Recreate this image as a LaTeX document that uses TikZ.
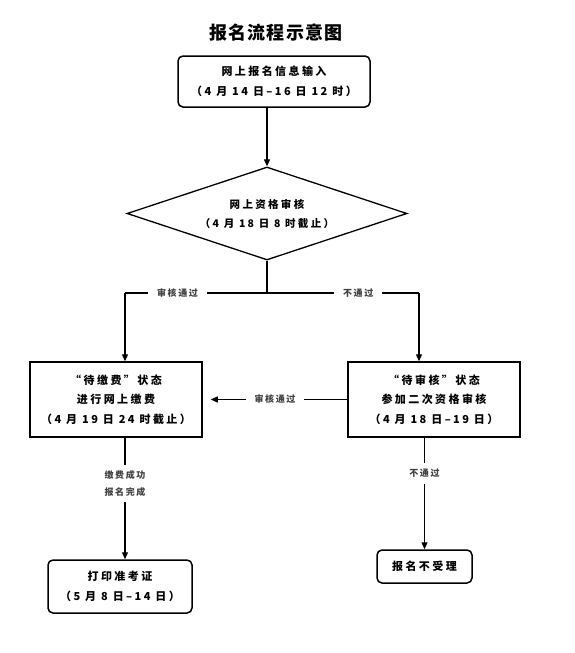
\documentclass[tikz,border=0pt]{standalone}
\usepackage{fontspec}
\setmainfont{Noto Sans CJK SC}[LetterSpace=22]
\newfontfamily\titlefont{Noto Sans CJK SC}[LetterSpace=6]
\newfontfamily\lblfont{Noto Sans CJK SC}[LetterSpace=18]
\usetikzlibrary{shapes.geometric,arrows.meta,calc}
\begin{document}
\begin{tikzpicture}[x=1pt,y=-1pt,
  boxst/.style={draw, line width=1.5pt, rectangle, align=center, inner sep=0pt,
    font=\fontsize{11}{19.5}\selectfont\bfseries},
  rboxst/.style={boxst, rounded corners=5pt},
  diast/.style={draw, line width=1.3pt, diamond, aspect=3, inner sep=0pt, align=center,
    minimum width=280pt, minimum height=93pt, font=\fontsize{10.5}{19}\selectfont\bfseries},
  lbl/.style={fill=white, inner xsep=9pt, inner ysep=6pt, align=center, text=black!75,
    font=\lblfont\fontsize{9}{17}\selectfont\bfseries},
  ln/.style={line width=1.2pt},
  arr/.style={ln, -{Triangle[length=7pt,width=6pt]}}]
\useasboundingbox (0,0) rectangle (575,653);
\node[font=\titlefont\fontsize{18}{20}\selectfont\bfseries] (title) at (276,33) {报名流程示意图};
\node[rboxst, minimum width=192pt, minimum height=51pt] (top) at (274,81.5)
  {网上报名信息输入\\（4 月 14 日–16 日 12 时）};
\node[diast] (dia) at (267,213.5) {网上资格审核\\（4 月 18 日 8 时截止）};
\node[boxst, minimum width=172pt, minimum height=75pt] (lbox) at (116,399.5)
  {“待缴费”状态\\进行网上缴费\\（4 月 19 日 24 时截止）};
\node[boxst, minimum width=172pt, minimum height=75pt] (rbox) at (434,399.5)
  {“待审核”状态\\参加二次资格审核\\（4 月 18 日–19 日）};
\node[rboxst, minimum width=144pt, minimum height=53pt] (pbox) at (120,586.5)
  {打印准考证\\（5 月 8 日–14 日）};
\node[rboxst, minimum width=95pt, minimum height=33pt] (jbox) at (424.5,566.5)
  {报名不受理};
\coordinate (split) at (267,293);
\coordinate (lsp) at (125,293);
\coordinate (rsp) at (419,293);
\coordinate (pdown) at (125,437);
\draw[arr] (top.south -| dia.north) -- (dia.north);
\draw[ln] (dia.south) -- (split);
\draw[ln] (split) -- node[lbl, pos=0.63] {审核通过} (lsp);
\draw[ln] (split) -- node[lbl, pos=0.6] {不通过} (rsp);
\draw[arr] (lsp) -- (lbox.north -| lsp);
\draw[arr] (rsp) -- (rbox.north -| rsp);
\draw[arr, shorten >=8pt] (rbox.west) -- node[lbl] {审核通过} (lbox.east);
\draw[arr] (pdown) -- node[lbl, pos=0.38] {缴费成功\\报名完成} (pbox.north -| pdown);
\draw[arr] (rbox.south -| jbox.north) -- node[lbl, pos=0.32] {不通过} (jbox.north);
\end{tikzpicture}
\end{document}
